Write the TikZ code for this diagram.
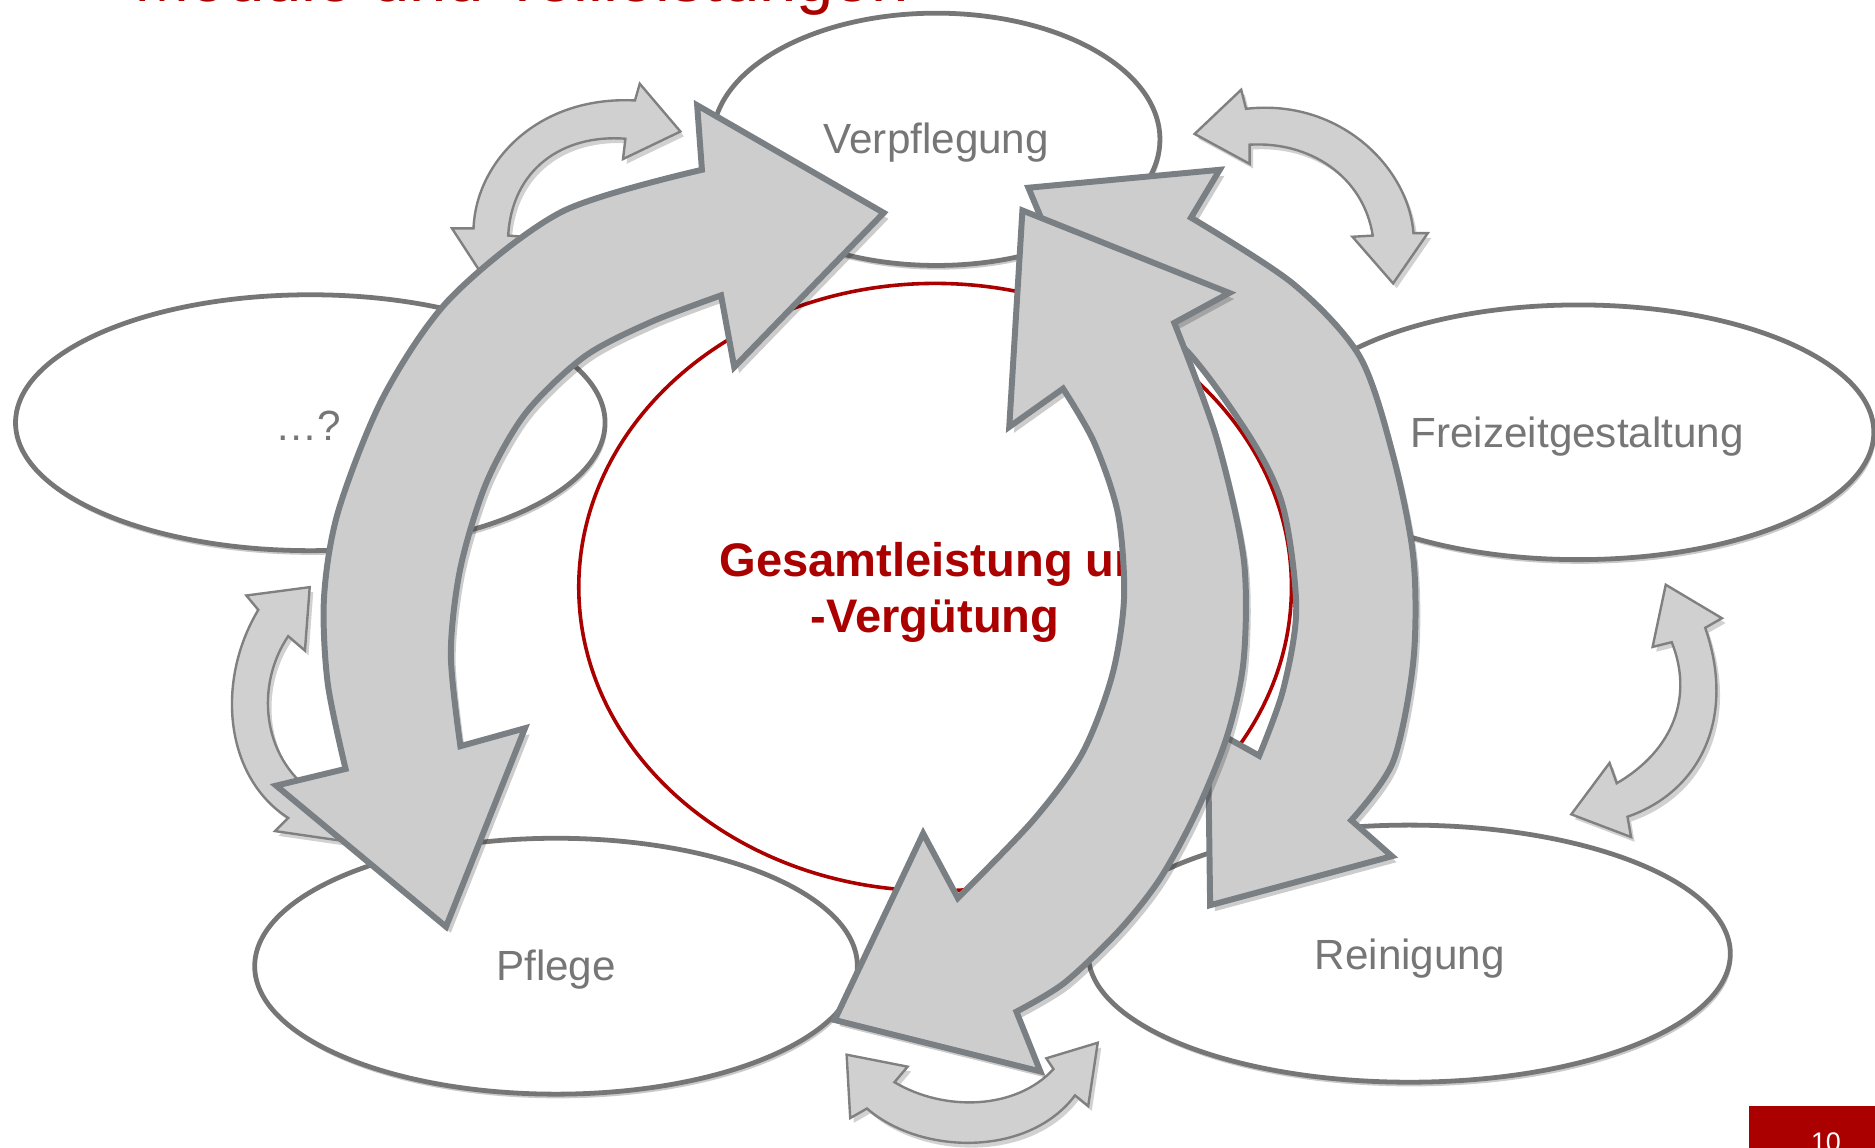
\documentclass[tikz,border=0pt]{standalone}
\usepackage{fontspec}
\setmainfont{Liberation Sans}
\usetikzlibrary{shapes.geometric,shadows}
\definecolor{ellgray}{RGB}{118,118,118}
\definecolor{txtgray}{RGB}{118,118,118}
\definecolor{darkred}{RGB}{170,0,0}
\definecolor{arrfill}{RGB}{205,205,205}
\definecolor{arredge}{RGB}{122,127,132}
\definecolor{sarrfill}{RGB}{208,208,208}
\definecolor{sarredge}{RGB}{128,128,128}
\begin{document}
\begin{tikzpicture}[x=1pt,y=-1pt,
  modul/.style={ellipse, draw=ellgray, line width=4pt, fill=white, inner sep=0pt,
    drop shadow={shadow xshift=1.5pt, shadow yshift=-3.5pt, opacity=.35, fill=black!60}},
  modtext/.style={anchor=base, text=txtgray, font=\fontsize{35.3}{40}\selectfont, inner sep=0pt},
  centertext/.style={anchor=base, text=darkred, font=\bfseries\fontsize{39.4}{46}\selectfont, inner sep=0pt},
  bigarrow/.style={fill=arrfill, draw=arredge, line width=5pt,
    drop shadow={shadow xshift=4pt, shadow yshift=-5pt, opacity=.2, fill=black}},
  smallarrow/.style={fill=sarrfill, draw=sarredge, line width=2pt,
    drop shadow={shadow xshift=3pt, shadow yshift=-4pt, opacity=.18, fill=black}},
]
\useasboundingbox (0,0) rectangle (1568,960);

% title (cut off by the page top, as in the original)
\node[anchor=base west, text=darkred, font=\fontsize{56}{60}\selectfont, inner sep=0pt] (title) at (112,1) {Module und Teilleistungen};

% central ellipse
\node[ellipse, draw=darkred, line width=3pt, fill=white, inner sep=0pt,
      minimum width=596pt, minimum height=508pt] (center) at (782,491) {};

% module ellipses
\node[modul, minimum width=374pt, minimum height=211pt] (verpf) at (783,116.5) {};
\node[modul, minimum width=493pt, minimum height=214pt] (quest) at (259.5,353.5) {};
\node[modul, minimum width=494pt, minimum height=213pt] (frei) at (1320,361.5) {};
\node[modul, minimum width=504pt, minimum height=214pt] (pflege) at (465,808) {};
\node[modul, minimum width=537pt, minimum height=215pt] (rein) at (1178.5,797.5) {};

% texts
\node[modtext] (tverpf) at (783,128) {Verpflegung};
\node[modtext] (tquest) at (258,368) {…?};
\node[modtext] (tfrei) at (1319,374) {Freizeitgestaltung};
\node[modtext] (tpflege) at (465,820) {Pflege};
\node[modtext] (trein) at (1179,811) {Reinigung};
\node[centertext] (tges1) at (791,482) {Gesamtleistung und};
\node[centertext] (tges2) at (782,529) {-Vergütung};

% small double arrows
\filldraw[smallarrow] (569,110) -- (535,70) -- (531,84)
  .. controls (450,80) and (398,135) .. (396,191)
  -- (378,191) -- (404,231) -- (438,198) -- (425,197)
  .. controls (428,142) and (470,112) .. (523,116)
  -- (521,133) -- cycle;

\filldraw[smallarrow] (999,112) -- (1038,75) -- (1042,91)
  .. controls (1120,82) and (1178,140) .. (1182,195)
  -- (1194,195) -- (1165,237) -- (1131,198) -- (1148,197)
  .. controls (1140,147) and (1095,118) .. (1045,121)
  -- (1045,137) -- cycle;

\filldraw[smallarrow] (259,491) -- (206,498) -- (216,510)
  .. controls (180,570) and (188,650) .. (241,684)
  -- (230,695) -- (285,703) -- (272,652) -- (262,663)
  .. controls (218,632) and (214,572) .. (241,532)
  -- (255,544) -- cycle;

\filldraw[smallarrow] (1393,489) -- (1440,517) -- (1426,525)
  .. controls (1452,600) and (1422,662) .. (1361,683)
  -- (1364,700) -- (1314,681) -- (1346,638) -- (1352,655)
  .. controls (1400,627) and (1416,582) .. (1398,537)
  -- (1382,541) -- cycle;

\filldraw[smallarrow] (708,882) -- (759,892) -- (748,905)
  .. controls (790,930) and (850,928) .. (881,894)
  -- (875,885) -- (918,872) -- (910,925) -- (899,916)
  .. controls (860,968) and (770,966) .. (725,927)
  -- (711,935) -- cycle;

% big arrow C (right, behind)
\filldraw[bigarrow] (860,157) -- (1020,142) -- (996,182)
  -- plot[smooth] coordinates {(996,182) (1081,237) (1137,298) (1165,381) (1182,467) (1182,552) (1165,637) (1130,686)}
  -- (1164,716) -- (1012,757) -- (1010,608) -- (1053,632)
  -- plot[smooth] coordinates {(1053,632) (1073,577) (1084,509) (1073,424) (1045,365) (989,290) (940,270)}
  -- (920,300) -- cycle;

% big arrow A (left)
\filldraw[bigarrow] (739,178) -- (583,88) -- (587,142)
  -- plot[smooth] coordinates {(587,142) (470,177) (377,249) (321,331) (283,427) (271,499) (274,571) (289,643)}
  -- (231,657) -- (373,775) -- (439,609) -- (385,624)
  -- plot[smooth] coordinates {(385,624) (377,547) (385,475) (407,403) (440,345) (489,298) (545,269) (603,247)}
  -- (614,307) -- cycle;

% big arrow B (middle, front)
\filldraw[bigarrow] (855,176) -- (1028,245) -- (982,270)
  -- plot[smooth] coordinates {(982,270) (1017,365) (1040,467) (1040,552) (1026,616) (1000,680) (970,735) (936,778) (890,822) (850,846)}
  -- (870,896) -- (698,853) -- (772,697) -- (801,751)
  -- plot[smooth] coordinates {(801,751) (864,686) (905,630) (930,565) (940,500) (935,430) (915,370) (889,325)}
  -- (844,357) -- cycle;

% page number
\node[fill=darkred, anchor=north west, minimum width=110pt, minimum height=40pt, inner sep=0pt] (pagebox) at (1462,925) {};
\node[anchor=base, text=white, font=\fontsize{22.5}{26}\selectfont, inner sep=0pt] (pagenum) at (1527,963) {10};
\end{tikzpicture}
\end{document}
